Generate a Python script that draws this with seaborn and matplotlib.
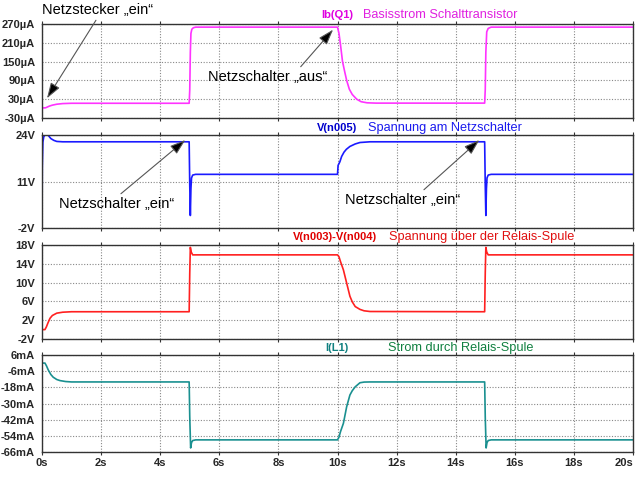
import numpy as np
import matplotlib
matplotlib.use("Agg")
import matplotlib.pyplot as plt
import seaborn as sns

# --- data ---
t_ib = [0, 0.12, 0.18, 0.25, 0.35, 0.5, 0.7, 1.0, 4.98, 5.0, 5.02, 5.04, 5.07, 5.12, 5.2,
        10.0, 10.05, 10.1, 10.17, 10.25, 10.31, 10.4, 10.5, 10.65, 10.8, 11.0, 11.3,
        14.98, 15.0, 15.02, 15.05, 15.1, 15.2, 20.0]
ib = [2, 2.5, 5, 8, 11, 14, 16, 17, 17, 60, 180, 240, 253, 258, 260,
      260, 240, 205, 150, 115, 90, 62, 45, 30, 22, 18.5, 17.5,
      17.5, 60, 180, 245, 256, 260, 260]

t_v5 = [0, 0.01, 0.03, 0.06, 0.1, 0.15, 0.22, 0.3, 0.4, 0.5, 0.7, 4.98,
        5.0, 5.02, 5.04, 5.06, 5.1, 5.2, 10.0, 10.02, 10.08, 10.14, 10.22, 10.3,
        10.42, 10.6, 10.76, 11.1, 14.98, 15.0, 15.02, 15.04, 15.06, 15.1, 15.2, 20.0]
v5 = [-2, 15, 22, 23.5, 24.0, 24.2, 23.8, 23.0, 22.5, 22.2, 22.1, 22.1,
      10, 1.5, 9, 12.0, 12.8, 13.0, 13.0, 15.5, 16.5, 18.0, 19.2, 20.0,
      20.8, 21.5, 21.9, 22.1, 22.1, 10, 1.5, 9, 12.0, 12.8, 13.0, 13.0]

t_vl = [0, 0.1, 0.15, 0.2, 0.27, 0.35, 0.5, 0.7, 1.0, 4.98, 5.0, 5.02, 5.05, 5.1,
        10.0, 10.05, 10.1, 10.2, 10.31, 10.42, 10.5, 10.6, 10.76, 10.9, 11.1,
        14.98, 15.0, 15.02, 15.05, 15.1, 20.0]
vl = [0, 0, 0.6, 1.4, 2.4, 3.0, 3.5, 3.7, 3.8, 3.8, 12, 17.5, 16.5, 15.9,
      15.9, 15.5, 14.5, 12.7, 9.9, 7.1, 5.9, 4.9, 4.3, 4.0, 3.85,
      3.8, 12, 17.5, 16.5, 15.9, 15.9]

t_il = [0, 0.1, 0.15, 0.21, 0.3, 0.38, 0.5, 0.61, 0.8, 1.0, 4.98,
        5.0, 5.03, 5.06, 5.1, 5.2, 10.0, 10.05, 10.1, 10.2, 10.31, 10.42, 10.5,
        10.6, 10.76, 10.9, 11.1, 14.98, 15.0, 15.03, 15.06, 15.1, 15.2, 20.0]
il = [0, 0, -2, -5, -8.5, -10.5, -12.2, -13.0, -13.7, -14.0, -14.0,
      -40, -63, -59, -57.5, -57, -57, -55, -51, -44.7, -32.4, -23.7, -20.5,
      -17.6, -14.6, -14.1, -14.0, -14.0, -40, -63, -59, -57.5, -57, -57]

x_ticks = [0, 2, 4, 6, 8, 10, 12, 14, 16, 18, 20]
ib_ticks = [-30, 30, 90, 150, 210, 270]
v5_ticks = [-2, 11, 24]
vl_ticks = [-2, 2, 6, 10, 14, 18]
il_ticks = [-66, -54, -42, -30, -18, -6, 6]

sns.set_style("white")
plt.rcParams['font.family'] = ['Liberation Sans', 'DejaVu Sans']

fig = plt.figure(figsize=(6.4, 4.8), dpi=100)

def px_axes(top, bottom, left=42, right=633):
    return fig.add_axes([left / 640, (480 - bottom) / 480, (right - left) / 640, (bottom - top) / 480])

panels = [
    (24, 118, t_ib, ib, ib_ticks, "µA", "#ff33ff", (-30, 270)),
    (135, 228, t_v5, v5, v5_ticks, "V", "#1a1aff", (-2, 24)),
    (245, 339, t_vl, vl, vl_ticks, "V", "#ff2020", (-2, 18)),
    (355, 452, t_il, il, il_ticks, "mA", "#1a9090", (-66, 6)),
]

axes = []
for i, (top, bot, tt, yy, yt, unit, col, lim) in enumerate(panels):
    ax = px_axes(top, bot)
    sns.lineplot(x=tt, y=yy, ax=ax, color=col, lw=1.2, estimator=None, sort=False)
    ax.set_xlim(0, 20)
    ax.set_ylim(*lim)
    ax.set_xticks(x_ticks)
    ax.set_yticks(yt)
    ax.set_yticklabels([f"{v}{unit}" for v in yt], fontsize=8, fontweight='bold')
    if i == 3:
        ax.set_xticklabels([f"{v}s" for v in x_ticks], fontsize=8, fontweight='bold')
        # keep "20s" inside the picture
        ax.get_xticklabels()[-1].set_horizontalalignment('right')
    else:
        ax.set_xticklabels([])
    ax.tick_params(axis='y', direction='out', length=4, width=0.8, color='#333333', pad=1)
    ax.tick_params(axis='x', direction='out', length=2.5, width=0.8, color='#333333', pad=2,
                   top=True, bottom=True)
    ax.grid(True, color='#888888', lw=0.8, ls=(0, (1, 1.5)))
    for s in ax.spines.values():
        s.set_color('#333333')
        s.set_linewidth(1.0)
    ax.set_xlabel("")
    ax.set_ylabel("")
    axes.append(ax)

# panel titles (trace name bold + description)
titles = [
    (15, 353, 363, "Ib(Q1)", "Basisstrom Schalttransistor", "#e000e0", "#e020e0"),
    (128, 357, 368, "V(n005)", "Spannung am Netzschalter", "#0000cc", "#1a1aee"),
    (237, 377, 389, "V(n003)-V(n004)", "Spannung über der Relais-Spule", "#e00000", "#e01010"),
    (348, 348, 388, "I(L1)", "Strom durch Relais-Spule", "#108080", "#108040"),
]
for y, xr, xl, name, desc, c1, c2 in titles:
    fig.text(xr / 640, 1 - y / 480, name, ha='right', va='center', fontsize=8,
             fontweight='bold', color=c1)
    fig.text(xl / 640, 1 - y / 480, desc, ha='left', va='center', fontsize=9.2, color=c2)

arrow = dict(arrowstyle='-|>,head_length=0.9,head_width=0.3', fc='black', ec='#555555', lw=0.8,
             shrinkA=0, shrinkB=0)

# annotations: (axis, target data point, text centre in image px, relpos)
notes = [
    (0, (0.17, 33), (98, 10), "Netzstecker \u201eein\u201c", (0.5, 0.0)),
    (0, (9.85, 252), (268, 77), "Netzschalter \u201eaus\u201c", (0.75, 1.0)),
    (1, (4.85, 22.6), (117, 204), "Netzschalter \u201eein\u201c", (0.5, 1.0)),
    (1, (14.8, 22.6), (403, 200), "Netzschalter \u201eein\u201c", (0.65, 1.0)),
]
for k, xy, (tx, ty), label, rp in notes:
    a = dict(arrow)
    a['relpos'] = rp
    axes[k].annotate(label, xy=xy, xycoords='data', xytext=(tx, 480 - ty),
                     textcoords='figure pixels', ha='center', va='center', fontsize=10.5,
                     color='black', arrowprops=a, annotation_clip=False)

fig.savefig("out.png", dpi=100)
